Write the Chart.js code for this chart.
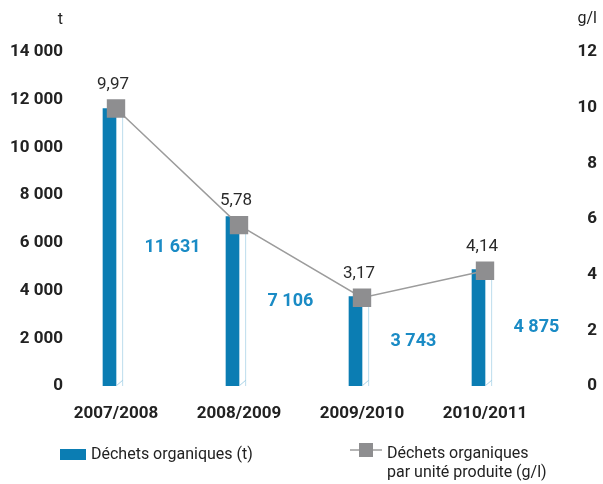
<!DOCTYPE html>
<html>
<head>
<meta charset="utf-8">
<script src="https://cdn.jsdelivr.net/npm/chart.js@4"></script>
<style>
  html, body { margin: 0; padding: 0; background: #fff; }
  #wrap { width: 603px; height: 484px; position: relative; }
</style>
</head>
<body>
<div id="wrap"><canvas id="wasteChart"></canvas></div>
<script>
// data
const seasons = ['2007/2008', '2008/2009', '2009/2010', '2010/2011'];
const wasteTonnes = [11631, 7106, 3743, 4875];
const wastePerUnit = [9.97, 5.78, 3.17, 4.14];
const tonneTicks = [0, 2000, 4000, 6000, 8000, 10000, 12000, 14000];
const perUnitTicks = [0, 2, 4, 6, 8, 10, 12];

const BLUE = '#0b7db3';
const LABEL_BLUE = '#1a8bc5';
const SIDE_BLUE = '#a9d3e7';
const GREY = '#8e8e90';
const LINE_GREY = '#9c9c9c';
const TEXT = '#222222';
const FONT = 'Roboto, "DejaVu Sans", sans-serif';
const TICK_FONT = { family: FONT, size: 17, weight: 'bold' };

function thousands(n) {
    return String(n).replace(/\B(?=(\d{3})+(?!\d))/g, ' ');
}
function decimal(v) {
    return v.toFixed(2).replace('.', ',');
}

// left tick labels are mirrored so they are not clipped; work out the
// padding that puts their right edge at x = 63
const LEFT_AXIS_W = 54.5;
const measure = document.createElement('canvas').getContext('2d');
measure.font = 'bold 17px ' + FONT;
const widestLeft = Math.max(...tonneTicks.map(v => measure.measureText(thousands(v)).width));
const leftPad = 63 - LEFT_AXIS_W - widestLeft;

// labels, axis units, bar side face and legend
const extras = {
    id: 'extras',
    afterDatasetsDraw(chart) {
        const ctx = chart.ctx;
        const side = chart.getDatasetMeta(1);
        ctx.save();
        ctx.strokeStyle = SIDE_BLUE;
        ctx.lineWidth = 1;
        side.data.forEach(bar => {
            const left = bar.x - bar.width / 2, right = bar.x + bar.width / 2;
            ctx.beginPath();
            ctx.moveTo(left, bar.base);
            ctx.lineTo(right, bar.base - 6);
            ctx.stroke();
        });
        ctx.restore();
    },
    afterDraw(chart) {
        const ctx = chart.ctx;
        ctx.save();

        // units above the axes
        ctx.font = '16px ' + FONT;
        ctx.fillStyle = TEXT;
        ctx.textBaseline = 'middle';
        ctx.textAlign = 'right';
        ctx.fillText('t', 63, 20);
        ctx.fillText('g/l', 597, 19);

        // bar values, beside each bar
        const bars = chart.getDatasetMeta(1);
        ctx.font = 'bold 18px ' + FONT;
        ctx.fillStyle = LABEL_BLUE;
        ctx.textAlign = 'left';
        bars.data.forEach((bar, i) => {
            ctx.fillText(thousands(wasteTonnes[i]), bar.x + 25, (bar.y + bar.base) / 2);
        });

        // line values, above each marker
        const line = chart.getDatasetMeta(2);
        ctx.font = '17px ' + FONT;
        ctx.fillStyle = '#2a2a2a';
        ctx.textAlign = 'center';
        line.data.forEach((pt, i) => {
            ctx.fillText(decimal(wastePerUnit[i]), pt.x - 3, pt.y - 24);
        });

        // legend
        ctx.font = '16px ' + FONT;
        ctx.fillStyle = BLUE;
        ctx.fillRect(60, 449, 26, 11);
        ctx.fillStyle = TEXT;
        ctx.textAlign = 'left';
        ctx.textBaseline = 'alphabetic';
        ctx.fillText('Déchets organiques (t)', 91, 459);

        ctx.strokeStyle = LINE_GREY;
        ctx.lineWidth = 1.5;
        ctx.beginPath();
        ctx.moveTo(350, 450);
        ctx.lineTo(382, 450);
        ctx.stroke();
        ctx.fillStyle = GREY;
        ctx.fillRect(359, 443, 14, 14);
        ctx.fillStyle = TEXT;
        ctx.fillText('Déchets organiques', 387, 458);
        ctx.fillText('par unité produite (g/l)', 387, 477);

        ctx.restore();
    }
};

new Chart(document.getElementById('wasteChart'), {
    data: {
        labels: seasons,
        datasets: [
            {
                type: 'bar',
                label: 'Déchets organiques (t)',
                data: wasteTonnes,
                yAxisID: 'y',
                backgroundColor: BLUE,
                barThickness: 13,
                order: 2
            },
            {
                type: 'bar',
                label: 'side',
                data: wasteTonnes,
                yAxisID: 'y',
                backgroundColor: '#ffffff',
                borderColor: SIDE_BLUE,
                borderWidth: { top: 0, left: 0, bottom: 0, right: 1 },
                borderSkipped: false,
                barThickness: 7,
                order: 2
            },
            {
                type: 'line',
                label: 'Déchets organiques par unité produite (g/l)',
                data: wastePerUnit,
                yAxisID: 'y1',
                borderColor: LINE_GREY,
                borderWidth: 1.5,
                pointStyle: 'rect',
                pointRadius: 13,
                pointBorderWidth: 0,
                pointBackgroundColor: GREY,
                tension: 0,
                order: 0
            }
        ]
    },
    options: {
        responsive: true,
        maintainAspectRatio: false,
        animation: false,
        layout: { padding: { top: 52, right: 6, bottom: 58, left: 0 } },
        plugins: {
            legend: { display: false },
            tooltip: { enabled: false }
        },
        scales: {
            x: {
                grid: { display: false, drawTicks: false },
                border: { display: false },
                ticks: {
                    color: TEXT,
                    font: TICK_FONT,
                    padding: 18,
                    maxRotation: 0
                },
                afterFit: s => { s.height = 40; }
            },
            y: {
                position: 'left',
                min: 0,
                max: 14000,
                grid: { display: false, drawTicks: false },
                border: { display: false },
                afterBuildTicks: s => { s.ticks = tonneTicks.map(v => ({ value: v })); },
                ticks: {
                    color: TEXT,
                    font: TICK_FONT,
                    mirror: true,
                    crossAlign: 'far',
                    padding: leftPad,
                    callback: v => thousands(v)
                },
                afterFit: s => { s.width = LEFT_AXIS_W; }
            },
            y1: {
                position: 'right',
                min: 0,
                max: 12,
                grid: { display: false, drawTicks: false },
                border: { display: false },
                afterBuildTicks: s => { s.ticks = perUnitTicks.map(v => ({ value: v })); },
                ticks: {
                    color: TEXT,
                    font: TICK_FONT,
                    crossAlign: 'far',
                    callback: v => String(v)
                },
                afterFit: s => { s.width = 50.5; }
            }
        }
    },
    plugins: [extras]
});
</script>
</body>
</html>
